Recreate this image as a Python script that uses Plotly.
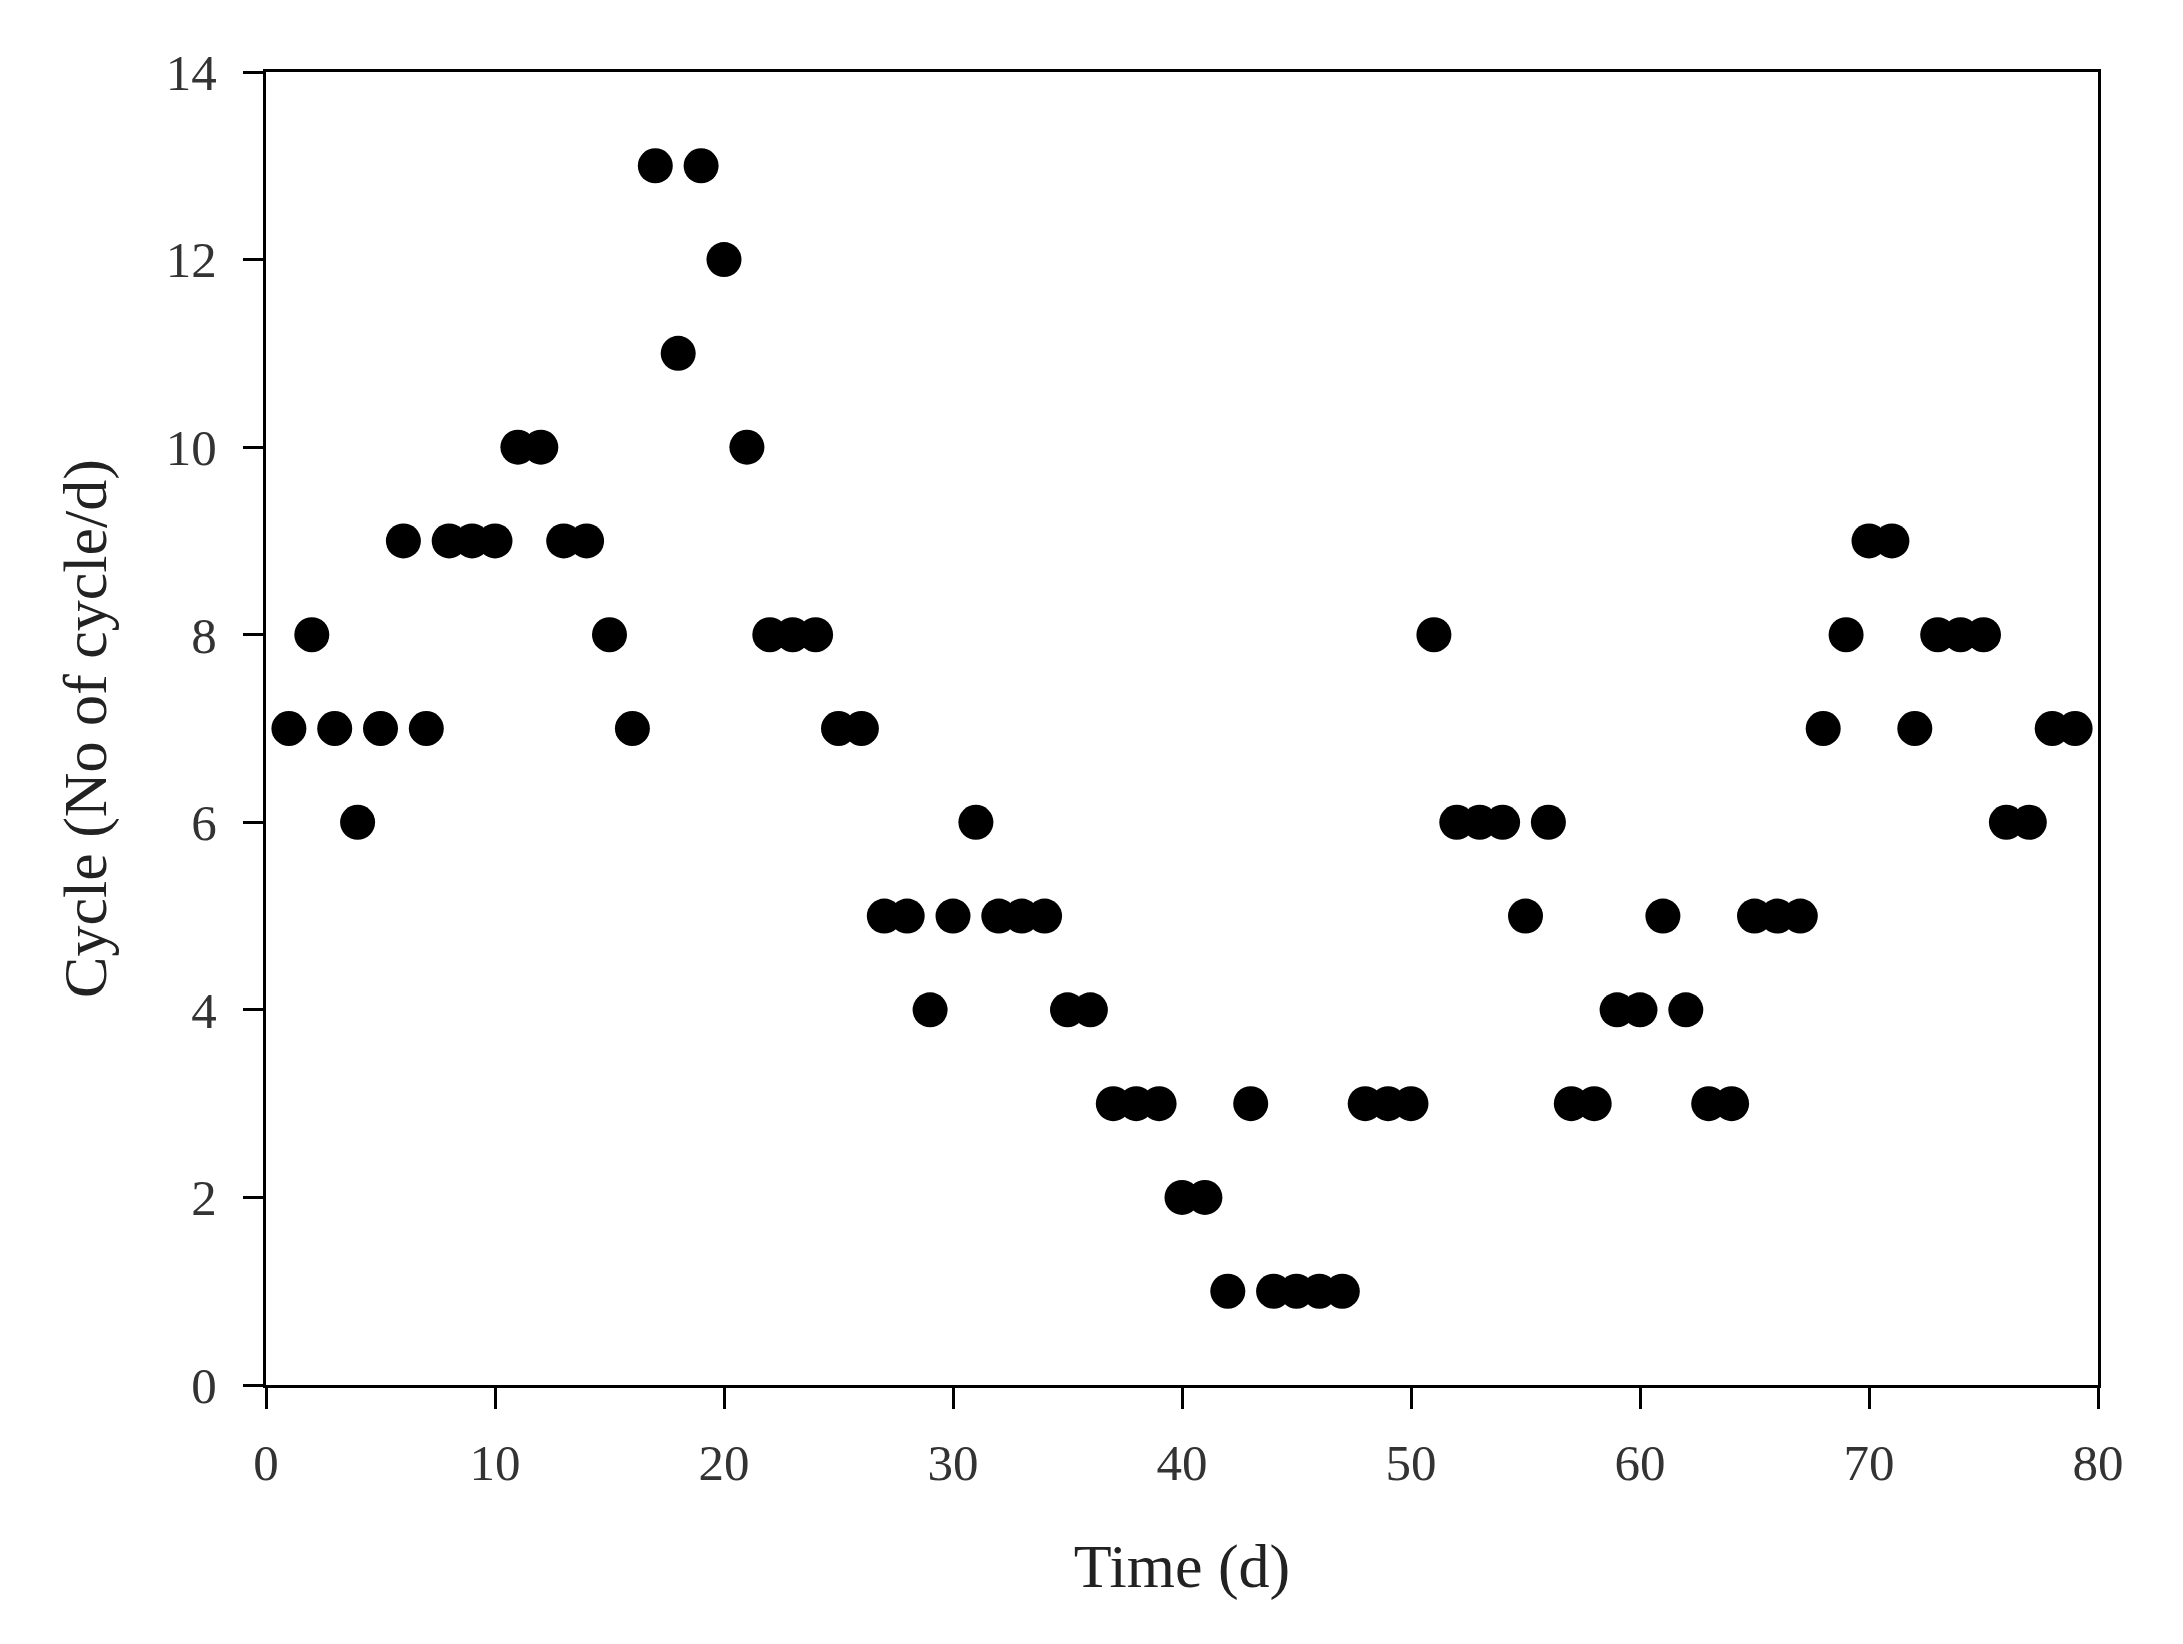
import plotly.graph_objects as go

days = list(range(1, 80))
cycles = [7, 8, 7, 6, 7, 9, 7, 9, 9, 9,
          10, 10, 9, 9, 8, 7, 13, 11, 13, 12,
          10, 8, 8, 8, 7, 7, 5, 5, 4, 5,
          6, 5, 5, 5, 4, 4, 3, 3, 3, 2,
          2, 1, 3, 1, 1, 1, 1, 3, 3, 3,
          8, 6, 6, 6, 5, 6, 3, 3, 4, 4,
          5, 4, 3, 3, 5, 5, 5, 7, 8, 9,
          9, 7, 8, 8, 8, 6, 6, 7, 7]

x_ticks = [0, 10, 20, 30, 40, 50, 60, 70, 80]
y_ticks = [0, 2, 4, 6, 8, 10, 12, 14]

font_family = "Liberation Serif, Times New Roman, serif"

fig = go.Figure()
fig.add_trace(go.Scatter(
    x=days, y=cycles, mode="markers",
    marker=dict(color="black", size=35, line=dict(width=0)),
    showlegend=False,
))

fig.update_layout(
    width=2183, height=1644,
    paper_bgcolor="white", plot_bgcolor="white",
    margin=dict(l=258, r=93, t=64, b=267),
    font=dict(family=font_family, color="#2a2a2a", size=50),
)
fig.update_xaxes(
    range=[0, 80], tickvals=x_ticks, ticktext=[str(v) for v in x_ticks],
    showgrid=False, zeroline=False,
    showline=True, linecolor="black", linewidth=3, mirror=True,
    ticks="outside", ticklen=21, tickwidth=3, tickcolor="black",
    tickfont=dict(size=51, color="#333333"), ticklabelstandoff=10,
    title=dict(text="Time (d)", font=dict(size=62, color="#222222"), standoff=54),
)
fig.update_yaxes(
    range=[0, 14], tickvals=y_ticks, ticktext=[str(v) for v in y_ticks],
    showgrid=False, zeroline=False,
    showline=True, linecolor="black", linewidth=3, mirror=True,
    ticks="outside", ticklen=20, tickwidth=3, tickcolor="black",
    tickfont=dict(size=51, color="#333333"), ticklabelstandoff=16,
    title=dict(text="Cycle (No of cycle/d)", font=dict(size=62, color="#222222"), standoff=40),
)

fig.write_html("out.html")
